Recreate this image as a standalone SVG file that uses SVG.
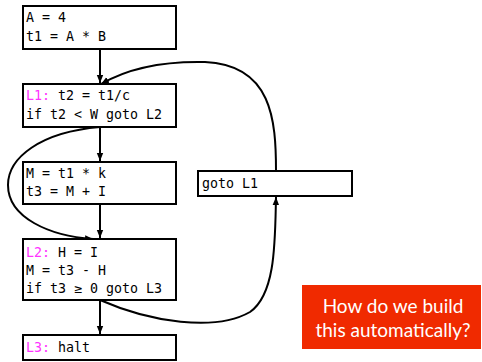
<svg xmlns="http://www.w3.org/2000/svg" width="482" height="362" viewBox="0 0 482 362">
<defs>
<marker id="ah" viewBox="0 0 10 10" refX="10" refY="5" markerWidth="8" markerHeight="8" markerUnits="userSpaceOnUse" orient="auto">
<path d="M0,1 L10,5 L0,9 z" fill="#000"/>
</marker>
</defs>
<style>
.box{fill:#fff;stroke:#000;stroke-width:2}
.code{font-family:"DejaVu Sans Mono",monospace;font-size:13.3px;fill:#000}
.lbl{fill:#ff33ff}
.edge{fill:none;stroke:#000;stroke-width:2;marker-end:url(#ah)}
.q{font-family:"Lato","Open Sans",sans-serif;font-size:19px;fill:#fff;text-anchor:middle}
</style>
<rect width="482" height="362" fill="#fff"/>
<g id="connectors">
<path class="edge" d="M100,49 L100,83"/>
<path class="edge" d="M100,127 L100,161"/>
<path class="edge" d="M100,204 L100,238"/>
<path class="edge" d="M100,300 L100,334"/>
<path class="edge" d="M100,127 C40,132 8,158 8,185 C8,218 50,236 93,239"/>
<path class="edge" d="M100,300 C150,322 215,332 250,312 C276,294 275,240 276,197"/>
<path class="edge" d="M276,171 C276,120 272,65 205,62 C160,61 125,70 101,84"/>
</g>
<g id="b1">
<rect class="box" x="23" y="6" width="153" height="43"/>
<text class="code" x="26" y="22">A = 4</text>
<text class="code" x="26" y="41">t1 = A * B</text>
</g>
<g id="b2">
<rect class="box" x="23" y="84" width="153" height="43"/>
<text class="code" x="26" y="100"><tspan class="lbl">L1:</tspan> t2 = t1/c</text>
<text class="code" x="26" y="119">if t2 &lt; W goto L2</text>
</g>
<g id="b3">
<rect class="box" x="23" y="162" width="153" height="42"/>
<text class="code" x="26" y="178">M = t1 * k</text>
<text class="code" x="26" y="196">t3 = M + I</text>
</g>
<g id="b4">
<rect class="box" x="23" y="239" width="153" height="61"/>
<text class="code" x="26" y="257"><tspan class="lbl">L2:</tspan> H = I</text>
<text class="code" x="26" y="275">M = t3 - H</text>
<text class="code" x="26" y="293">if t3 ≥ 0 goto L3</text>
</g>
<g id="b5">
<rect class="box" x="23" y="335" width="153" height="25"/>
<text class="code" x="26" y="352"><tspan class="lbl">L3:</tspan> halt</text>
</g>
<g id="b6">
<rect class="box" x="198" y="171" width="154" height="25"/>
<text class="code" x="202" y="188">goto L1</text>
</g>
<g id="note">
<rect x="302" y="285" width="179" height="64" fill="#f02a00"/>
<text class="q" x="393" y="313">How do we build</text>
<text class="q" x="393" y="337">this automatically?</text>
</g>
</svg>
